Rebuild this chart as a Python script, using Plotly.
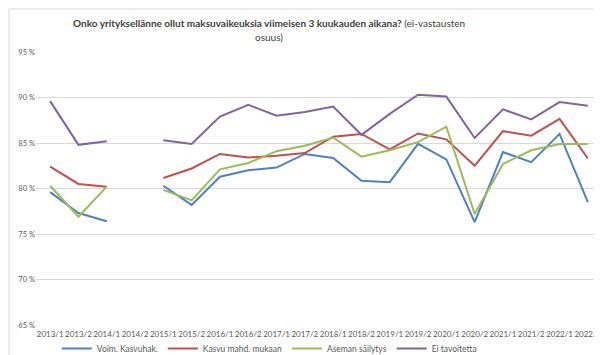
import plotly.graph_objects as go

categories = ["2013/1", "2013/2", "2014/1", "2014/2", "2015/1", "2015/2", "2016/1", "2016/2",
              "2017/1", "2017/2", "2018/1", "2018/2", "2019/1", "2019/2", "2020/1", "2020/2",
              "2021/1", "2021/2", "2022/1", "2022/2"]

voim_kasvuhak = [79.6, 77.3, 76.4, None, 80.3, 78.2, 81.3, 82.0, 82.3, 83.8, 83.35, 80.85,
                 80.7, 84.9, 83.2, 76.3, 84.0, 82.9, 86.0, 78.5]
kasvu_mahd = [82.4, 80.5, 80.2, None, 81.15, 82.2, 83.8, 83.4, 83.6, 83.9, 85.7, 86.0,
              84.3, 86.05, 85.4, 82.5, 86.3, 85.8, 87.65, 83.3]
aseman_sailytys = [80.3, 76.9, 80.2, None, 79.85, 78.7, 82.1, 82.8, 84.1, 84.7, 85.6, 83.5,
                   84.2, 85.1, 86.8, 77.2, 82.7, 84.2, 84.9, 84.9]
ei_tavoitetta = [89.6, 84.8, 85.2, None, 85.3, 84.9, 87.9, 89.2, 88.0, 88.4, 89.0, 85.9,
                 88.2, 90.3, 90.1, 85.55, 88.7, 87.6, 89.5, 89.1]

series = [
    ("Voim. Kasvuhak.", voim_kasvuhak, "#4F81BD"),
    ("Kasvu mahd. mukaan", kasvu_mahd, "#C0504D"),
    ("Aseman säilytys", aseman_sailytys, "#9BBB59"),
    ("Ei tavoitetta", ei_tavoitetta, "#8064A2"),
]

W, H = 602, 355
ML, MR, MT, MB = 28, 8, 44, 38
PW, PH = W - ML - MR, H - MT - MB

fig = go.Figure()
for name, vals, color in series:
    fig.add_trace(go.Scatter(
        x=categories, y=vals, name=name, mode="lines",
        line=dict(color=color, width=2), connectgaps=False,
    ))

font_family = "Lato, 'Open Sans', sans-serif"
title_cx = (261 - ML) / PW


def py(ypix):
    return (H - MB - ypix) / PH


fig.update_layout(
    width=W, height=H,
    paper_bgcolor="white", plot_bgcolor="white",
    margin=dict(l=ML, r=MR, t=MT, b=MB),
    font=dict(family=font_family, size=9, color="#595959"),
    legend=dict(
        orientation="h", xref="container", x=0.434, xanchor="center",
        yref="container", y=0.0, yanchor="bottom",
        font=dict(size=8.5, color="#595959"), itemwidth=30,
        bgcolor="rgba(0,0,0,0)",
    ),
    showlegend=True,
    annotations=[
        dict(text="<b>Onko yrityksellänne ollut maksuvaikeuksia viimeisen 3 kuukauden aikana?</b> (ei-vastausten",
             xref="paper", yref="paper", x=title_cx, y=py(15), xanchor="center", yanchor="middle",
             showarrow=False, font=dict(family=font_family, size=10, color="#404040")),
        dict(text="osuus)",
             xref="paper", yref="paper", x=title_cx, y=py(29), xanchor="center", yanchor="middle",
             showarrow=False, font=dict(family=font_family, size=10, color="#404040")),
    ],
    shapes=[
        dict(type="rect", xref="paper", yref="paper",
             x0=(1 - ML) / PW, x1=(599.5 - ML) / PW,
             y0=py(353), y1=py(1),
             line=dict(color="#D9D9D9", width=1), fillcolor="rgba(0,0,0,0)", layer="below"),
    ],
)
fig.update_xaxes(
    type="category", range=[-0.5, len(categories) - 0.5], autorange=False,
    tickangle=0, showgrid=False, showline=False, ticks="",
    tickfont=dict(size=8, color="#595959"), ticklabelstandoff=3, automargin=False,
)
fig.update_yaxes(
    range=[65, 95], dtick=5, ticksuffix=" %", showgrid=True, gridcolor="#D9D9D9",
    gridwidth=1, zeroline=False, showline=False, ticks="", automargin=False,
    tickfont=dict(size=7.5, color="#595959"),
)

fig.write_html("out.html")
